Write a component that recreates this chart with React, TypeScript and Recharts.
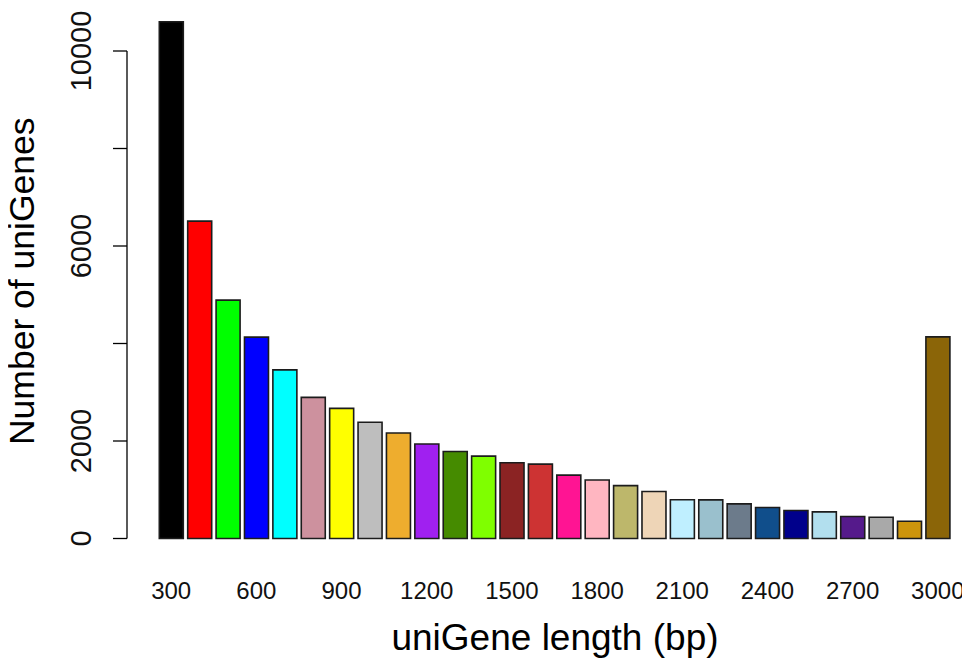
import { BarChart, Bar, Cell, XAxis, YAxis, ReferenceLine, Label } from "recharts";

// uniGene length bins (bp) and counts
const lengths = [
  300, 400, 500, 600, 700, 800, 900, 1000, 1100, 1200, 1300, 1400, 1500, 1600,
  1700, 1800, 1900, 2000, 2100, 2200, 2300, 2400, 2500, 2600, 2700, 2800, 2900, 3000,
];
const counts = [
  10600, 6510, 4890, 4130, 3460, 2895, 2670, 2385, 2165, 1940, 1785, 1690, 1555, 1525,
  1300, 1200, 1085, 963, 795, 792, 710, 635, 575, 546, 451, 437, 355, 4135,
];
const barColors = [
  "#000000", "#FF0000", "#00FF00", "#0000FF", "#00FFFF", "#CD919E", "#FFFF00",
  "#BEBEBE", "#EEAD2E", "#A020F0", "#458B00", "#7FFF00", "#8B2323", "#CD3333",
  "#FF1493", "#FFB6C1", "#BDB76B", "#EED5B7", "#BFEFFF", "#9AC0CD", "#6C7B8B",
  "#104E8B", "#00008B", "#B2DFEE", "#551A8B", "#A9A9A9", "#CD950C", "#8B6508",
];
const xTickLabels = [300, 600, 900, 1200, 1500, 1800, 2100, 2400, 2700, 3000];
const yTicks = [0, 2000, 4000, 6000, 8000, 10000];
const yTickLabels = [0, 2000, 6000, 10000];

const data = lengths.map((len, i) => ({ length: len, count: counts[i], fill: barColors[i] }));

const FONT = '"Liberation Sans", Arial, Helvetica, sans-serif';

function XTick({ x, y, payload }: any) {
  if (!xTickLabels.includes(Number(payload.value))) return <g />;
  return (
    <text x={x} y={y + 60.5} textAnchor="middle" fontSize={24} fontFamily={FONT} fill="#111">
      {payload.value}
    </text>
  );
}

function YTick({ x, y, payload }: any) {
  if (!yTickLabels.includes(Number(payload.value))) return <g />;
  const tx = x - 22;
  return (
    <text
      x={tx}
      y={y}
      transform={`rotate(-90, ${tx}, ${y})`}
      textAnchor="middle"
      fontSize={29}
      fontFamily={FONT}
      fill="#111"
    >
      {payload.value}
    </text>
  );
}

export default function App() {
  // cancel the body margin so the svg covers the whole window
  return (
    <div style={{ margin: "-8px 0 0 -8px", width: 970, height: 672, overflow: "hidden" }}>
      <BarChart
        width={970}
        height={672}
        data={data}
        margin={{ top: 12, right: 0, bottom: 8, left: 8 }}
        barCategoryGap={2.3}
        style={{ display: "block" }}
      >
        <XAxis
          dataKey="length"
          type="category"
          interval={0}
          axisLine={false}
          tickLine={false}
          tickSize={0}
          tickMargin={0}
          height={125.5}
          padding={{ left: 30, right: 18 }}
          tick={<XTick />}
        >
          <Label
            content={({ viewBox }: any) => (
              <text
                x={viewBox.x + viewBox.width / 2 + 6.5}
                y={viewBox.y + 111.5}
                textAnchor="middle"
                fontSize={37}
                fontFamily={FONT}
                fill="#000"
              >
                uniGene length (bp)
              </text>
            )}
          />
        </XAxis>
        <XAxis xAxisId="frame" type="number" domain={[0, 1]} hide allowDataOverflow />
        <YAxis
          type="number"
          domain={[0, 10800]}
          ticks={yTicks}
          interval={0}
          width={119}
          tickSize={14}
          tickMargin={0}
          axisLine={false}
          stroke="#000"
          tickLine={{ stroke: "#000", strokeWidth: 1.3 }}
          tick={<YTick />}
        >
          <Label
            content={({ viewBox }: any) => {
              const lx = viewBox.x + 26;
              const ly = viewBox.y + viewBox.height / 2 + 6;
              return (
                <text
                  x={lx}
                  y={ly}
                  transform={`rotate(-90, ${lx}, ${ly})`}
                  textAnchor="middle"
                  fontSize={35.5}
                  fontFamily={FONT}
                  fill="#000"
                >
                  Number of uniGenes
                </text>
              );
            }}
          />
        </YAxis>
        <ReferenceLine
          xAxisId="frame"
          segment={[
            { x: 0, y: 0 },
            { x: 0, y: 10000 },
          ]}
          stroke="#000"
          strokeWidth={1.3}
        />
        <Bar dataKey="count" isAnimationActive={false} stroke="#1c1c1c" strokeWidth={1.6}>
          {data.map((d) => (
            <Cell key={d.length} fill={d.fill} />
          ))}
        </Bar>
      </BarChart>
    </div>
  );
}
